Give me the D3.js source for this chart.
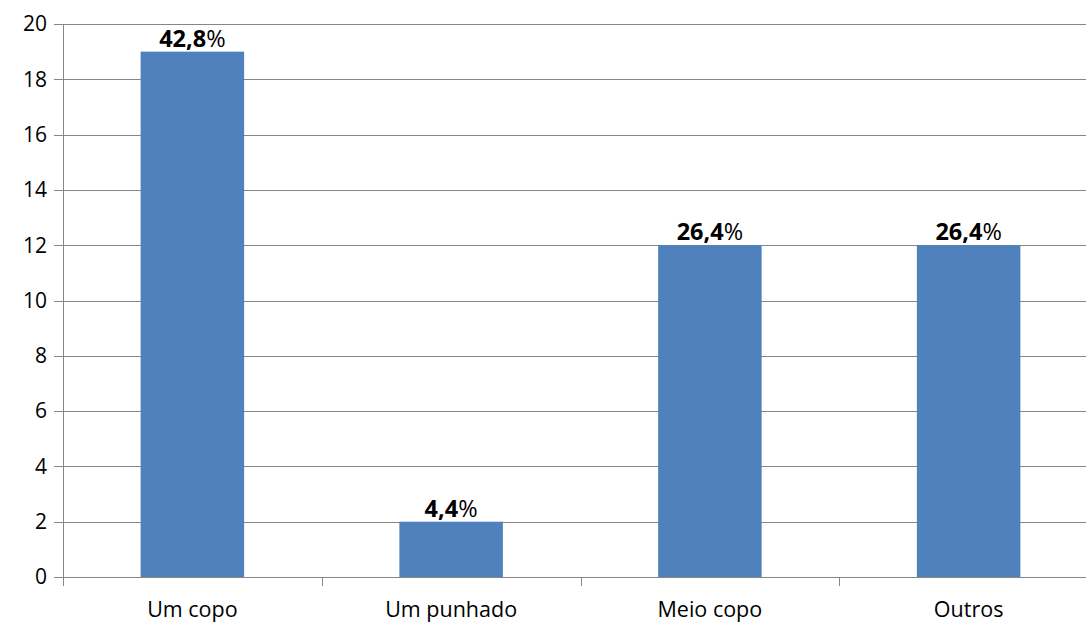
<!DOCTYPE html>
<html>
<head>
<meta charset="utf-8">
<script src="https://cdn.jsdelivr.net/npm/d3@7"></script>
<style>
  html, body { margin: 0; padding: 0; background: #fff; }
  svg { display: block; font-family: "Open Sans", Lato, sans-serif; }
</style>
</head>
<body>
<svg id="chart" width="1086" height="626"></svg>
<script>
// Portion sizes reported (counts) and their shares
const categories = ["Um copo", "Um punhado", "Meio copo", "Outros"];
const counts = [19, 2, 12, 12];
const shareLabels = ["42,8", "4,4", "26,4", "26,4"];
const yTicks = [0, 2, 4, 6, 8, 10, 12, 14, 16, 18, 20];

const svg = d3.select("#chart");
const plotLeft = 63, plotRight = 1098, plotTop = 24, plotBottom = 577;

const x = d3.scaleBand().domain(categories).range([plotLeft, plotRight]).paddingInner(0.6).paddingOuter(0.3);
const xb = d3.scaleBand().domain(categories).range([plotLeft, plotRight]);
const y = d3.scaleLinear().domain([0, 20]).range([plotBottom, plotTop]);

const grid = "#868686";

// horizontal gridlines
svg.append("g").selectAll("line").data(yTicks).join("line")
  .attr("x1", plotLeft).attr("x2", 1086)
  .attr("y1", d => Math.round(y(d)) + 0.5).attr("y2", d => Math.round(y(d)) + 0.5)
  .attr("stroke", grid).attr("stroke-width", 1);

// y axis line and ticks
svg.append("line").attr("x1", plotLeft + 0.5).attr("x2", plotLeft + 0.5)
  .attr("y1", y(20)).attr("y2", plotBottom + 9).attr("stroke", grid);
svg.append("g").selectAll("line").data(yTicks).join("line")
  .attr("x1", plotLeft - 9).attr("x2", plotLeft)
  .attr("y1", d => Math.round(y(d)) + 0.5).attr("y2", d => Math.round(y(d)) + 0.5)
  .attr("stroke", grid);
svg.append("g").selectAll("text").data(yTicks).join("text")
  .attr("x", 47).attr("y", d => y(d))
  .attr("dy", "0.35em").attr("text-anchor", "end")
  .attr("font-size", 21).attr("fill", "#000")
  .text(d => d);

// category separators below the axis
svg.append("g").selectAll("line").data(categories.slice(1)).join("line")
  .attr("x1", d => Math.round(xb(d)) + 0.5).attr("x2", d => Math.round(xb(d)) + 0.5)
  .attr("y1", plotBottom).attr("y2", plotBottom + 9)
  .attr("stroke", grid);

// bars
svg.append("g").selectAll("rect").data(categories).join("rect")
  .attr("x", d => x(d)).attr("width", x.bandwidth())
  .attr("y", (d, i) => y(counts[i]))
  .attr("height", (d, i) => plotBottom - y(counts[i]))
  .attr("fill", "#4f81bd");

// x axis baseline over the bars
svg.append("line").attr("x1", plotLeft).attr("x2", 1086)
  .attr("y1", Math.round(plotBottom) + 0.5).attr("y2", Math.round(plotBottom) + 0.5)
  .attr("stroke", grid);

// category labels
svg.append("g").selectAll("text").data(categories).join("text")
  .attr("x", d => xb(d) + xb.bandwidth() / 2).attr("y", 617)
  .attr("text-anchor", "middle").attr("font-size", 21.5).attr("fill", "#000")
  .text(d => d);

// share labels above bars
const lab = svg.append("g").selectAll("text").data(categories).join("text")
  .attr("x", d => x(d) + x.bandwidth() / 2)
  .attr("y", (d, i) => y(counts[i]) - 5)
  .attr("text-anchor", "middle").attr("font-size", 23.5).attr("fill", "#000");
lab.append("tspan").attr("font-weight", "bold").text((d, i) => shareLabels[i]);
lab.append("tspan").text("%");
</script>
</body>
</html>
